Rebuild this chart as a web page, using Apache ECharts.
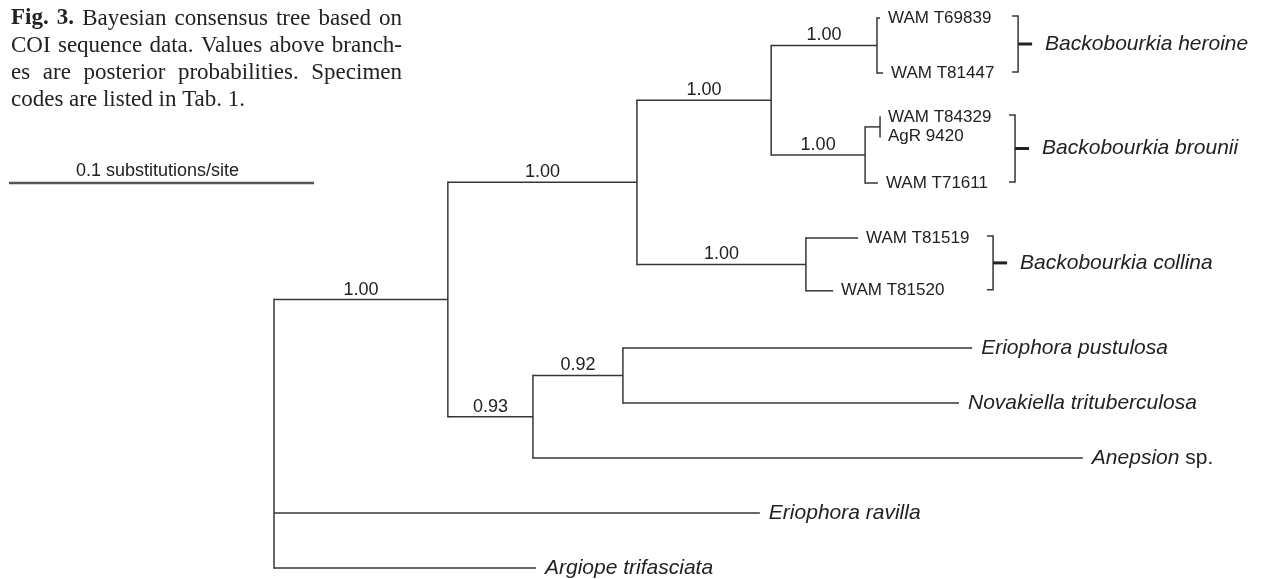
<!DOCTYPE html>
<html>
<head>
<meta charset="utf-8">
<script src="https://cdn.jsdelivr.net/npm/echarts@6/dist/echarts.min.js"></script>
<style>
  html, body { margin: 0; padding: 0; background: #fff; }
  #chart { width: 1269px; height: 579px; }
</style>
</head>
<body>
<div id="chart"></div>
<script>
// internal nodes, branch lengths in substitutions/site
const nodeIds     = ['root', 'n1', 'n2', 'n3', 'n4', 'n5', 'n6', 'n7', 'n8', 'n9'];
const nodeParents = [null, 'root', 'n1', 'n2', 'n3', 'n3', 'n5', 'n2', 'n1', 'n8'];
const nodeLengths = [0, 0.0570, 0.0620, 0.0440, 0.0347, 0.0308, 0.0049, 0.0554, 0.0279, 0.0295];
const nodeSupport = ['', '1.00', '1.00', '1.00', '1.00', '1.00', '', '1.00', '0.93', '0.92'];

// tips (top to bottom)
const tipLabels = ['WAM T69839', 'WAM T81447', 'WAM T84329', 'AgR 9420', 'WAM T71611',
  'WAM T81519', 'WAM T81520', '{i|Eriophora pustulosa}', '{i|Novakiella trituberculosa}',
  '{i|Anepsion} sp.', '{i|Eriophora ravilla}', '{i|Argiope trifasciata}'];
const tipParents = ['n4', 'n4', 'n6', 'n6', 'n5', 'n7', 'n7', 'n9', 'n9', 'n8', 'root', 'root'];
const tipLengths = [0.0010, 0.0020, 0, 0, 0.0042, 0.0171, 0.0089, 0.1145, 0.1102, 0.1803, 0.1593, 0.0859];
const tipRows    = [0, 1, 1.8, 2.16, 3, 4, 4.96, 6, 7, 8, 9, 10];

// species brackets
const cladeNames = ['Backobourkia heroine', 'Backobourkia brounii', 'Backobourkia collina'];
const cladeFirst = [0, 2, 5];
const cladeLast  = [1, 4, 6];

const scaleBar = 0.1;
const scaleLabel = '0.1 substitutions/site';

const captionLines = [
  'Fig. 3. Bayesian consensus tree based on',
  'COI sequence data. Values above branch-',
  'es are posterior probabilities. Specimen',
  'codes are listed in Tab. 1.'
];
const captionBoldWords = 2;

const lineColor = '#363636';
const textColor = '#222';
const sans = '"Liberation Sans", Arial, sans-serif';
const serif = '"Liberation Serif", "Times New Roman", serif';

// depths and rows
const depth = {}, row = {};
nodeIds.forEach((id, i) => {
  depth[id] = (nodeParents[i] ? depth[nodeParents[i]] : 0) + nodeLengths[i];
});
const kidRows = {};
tipParents.forEach((p, i) => { (kidRows[p] = kidRows[p] || []).push(tipRows[i]); });
for (let i = nodeIds.length - 1; i >= 0; i--) {
  const r = kidRows[nodeIds[i]];
  row[nodeIds[i]] = (Math.min(...r) + Math.max(...r)) / 2;
  if (nodeParents[i]) (kidRows[nodeParents[i]] = kidRows[nodeParents[i]] || []).push(row[nodeIds[i]]);
}

// horizontal branches: [childDepth, childRow, parentDepth]
const edges = [], edgeText = [], edgeIsTip = [];
nodeIds.forEach((id, i) => {
  if (!nodeParents[i]) return;
  edges.push([depth[id], row[id], depth[nodeParents[i]]]);
  edgeText.push(nodeSupport[i]);
  edgeIsTip.push(false);
});
tipLabels.forEach((lab, i) => {
  const p = tipParents[i];
  edges.push([depth[p] + tipLengths[i], tipRows[i], depth[p]]);
  edgeText.push(lab);
  edgeIsTip.push(true);
});
// vertical connectors: [nodeDepth, topChildRow, bottomChildRow]
const verticals = nodeIds.map(id => [depth[id], Math.min(...kidRows[id]), Math.max(...kidRows[id])]);

const cladeData = cladeNames.map((n, k) => {
  let m = 0;
  for (let i = cladeFirst[k]; i <= cladeLast[k]; i++) m = Math.max(m, depth[tipParents[i]] + tipLengths[i]);
  return [m, tipRows[cladeFirst[k]], tipRows[cladeLast[k]]];
});

// justified caption
const ctx = document.createElement('canvas').getContext('2d');
const capSize = 23, capLeft = 11, capRight = 402, capBase = 26, capLead = 27;
const capElems = [];
captionLines.forEach((ln, li) => {
  const words = ln.split(' ');
  const bold = words.map((w, wi) => li === 0 && wi < captionBoldWords);
  const widths = words.map((w, wi) => {
    ctx.font = (bold[wi] ? 'bold ' : '') + capSize + 'px ' + serif;
    return ctx.measureText(w).width;
  });
  const total = widths.reduce((a, b) => a + b, 0);
  const last = li === captionLines.length - 1;
  ctx.font = capSize + 'px ' + serif;
  const gap = last ? ctx.measureText(' ').width : (capRight - capLeft - total) / (words.length - 1);
  let x = capLeft;
  words.forEach((w, wi) => {
    capElems.push({
      type: 'text', x: x, y: capBase + li * capLead - 7.5,
      style: { text: w, fill: textColor, fontFamily: serif, fontSize: capSize,
        fontWeight: bold[wi] ? 'bold' : 'normal', verticalAlign: 'middle' }
    });
    x += widths[wi] + gap;
  });
});

const chart = echarts.init(document.getElementById('chart'));
const option = {
  animation: false,
  grid: { left: 274, right: 80, top: 18, bottom: 11 },
  xAxis: { type: 'value', min: 0, max: 0.3, show: false },
  yAxis: { type: 'value', min: 0, max: 10, inverse: true, show: false },
  graphic: capElems,
  series: [
    {
      type: 'custom',
      data: verticals,
      encode: { x: 0, y: [1, 2] },
      renderItem: function (params, api) {
        const a = api.coord([api.value(0), api.value(1)]);
        const b = api.coord([api.value(0), api.value(2)]);
        return { type: 'line', shape: { x1: a[0], y1: a[1], x2: b[0], y2: b[1] },
          style: { stroke: lineColor, lineWidth: 1.5, lineCap: 'square' } };
      }
    },
    {
      type: 'custom',
      data: edges,
      encode: { x: [0, 2], y: 1 },
      renderItem: function (params, api) {
        const c = api.coord([api.value(0), api.value(1)]);
        const p = api.coord([api.value(2), api.value(1)]);
        const i = params.dataIndex;
        const kids = [{
          type: 'line',
          shape: { x1: p[0], y1: c[1], x2: c[0], y2: c[1] },
          style: { stroke: lineColor, lineWidth: 1.5 }
        }];
        const t = edgeText[i];
        if (edgeIsTip[i]) {
          const species = t.indexOf('{i|') >= 0;
          kids.push({
            type: 'text', x: c[0] + (species ? 9 : 8), y: c[1],
            style: {
              text: t, fill: textColor, fontFamily: sans, fontSize: species ? 21 : 17,
              verticalAlign: 'middle',
              rich: { i: { fontStyle: 'italic', fontFamily: sans, fontSize: 21, fill: textColor } }
            }
          });
        } else if (t) {
          kids.push({
            type: 'text', x: (p[0] + c[0]) / 2, y: c[1] - 1,
            style: { text: t, fill: textColor, fontFamily: sans, fontSize: 18,
              align: 'center', verticalAlign: 'bottom' }
          });
        }
        return { type: 'group', children: kids };
      }
    },
    {
      type: 'custom',
      data: cladeData,
      encode: { x: 0, y: [1, 2] },
      renderItem: function (params, api) {
        const a = api.coord([api.value(0), api.value(1)]);
        const b = api.coord([api.value(0), api.value(2)]);
        const x = a[0] + 135, y0 = a[1] - 2, y1 = b[1] - 1, ym = (y0 + y1) / 2;
        return {
          type: 'group',
          children: [
            { type: 'polyline', shape: { points: [[x - 6, y0], [x, y0], [x, y1], [x - 6, y1]] },
              style: { stroke: lineColor, lineWidth: 1.5, fill: null } },
            { type: 'line', shape: { x1: x, y1: ym, x2: x + 14, y2: ym },
              style: { stroke: '#222', lineWidth: 3 } },
            { type: 'text', x: x + 27, y: ym,
              style: { text: cladeNames[params.dataIndex], fill: textColor, fontFamily: sans,
                fontSize: 21, fontStyle: 'italic', verticalAlign: 'middle' } }
          ]
        };
      }
    },
    {
      type: 'custom',
      data: [[scaleBar, 0]],
      renderItem: function (params, api) {
        const w = api.size([api.value(0), 0])[0];
        const x0 = 9, y = 183;
        return {
          type: 'group',
          children: [
            { type: 'line', shape: { x1: x0, y1: y, x2: x0 + w, y2: y },
              style: { stroke: '#555', lineWidth: 2.5 } },
            { type: 'text', x: x0 + w / 2 - 4, y: y - 3,
              style: { text: scaleLabel, fill: textColor, fontFamily: sans, fontSize: 18,
                align: 'center', verticalAlign: 'bottom' } }
          ]
        };
      }
    }
  ]
};
chart.setOption(option);
</script>
</body>
</html>
